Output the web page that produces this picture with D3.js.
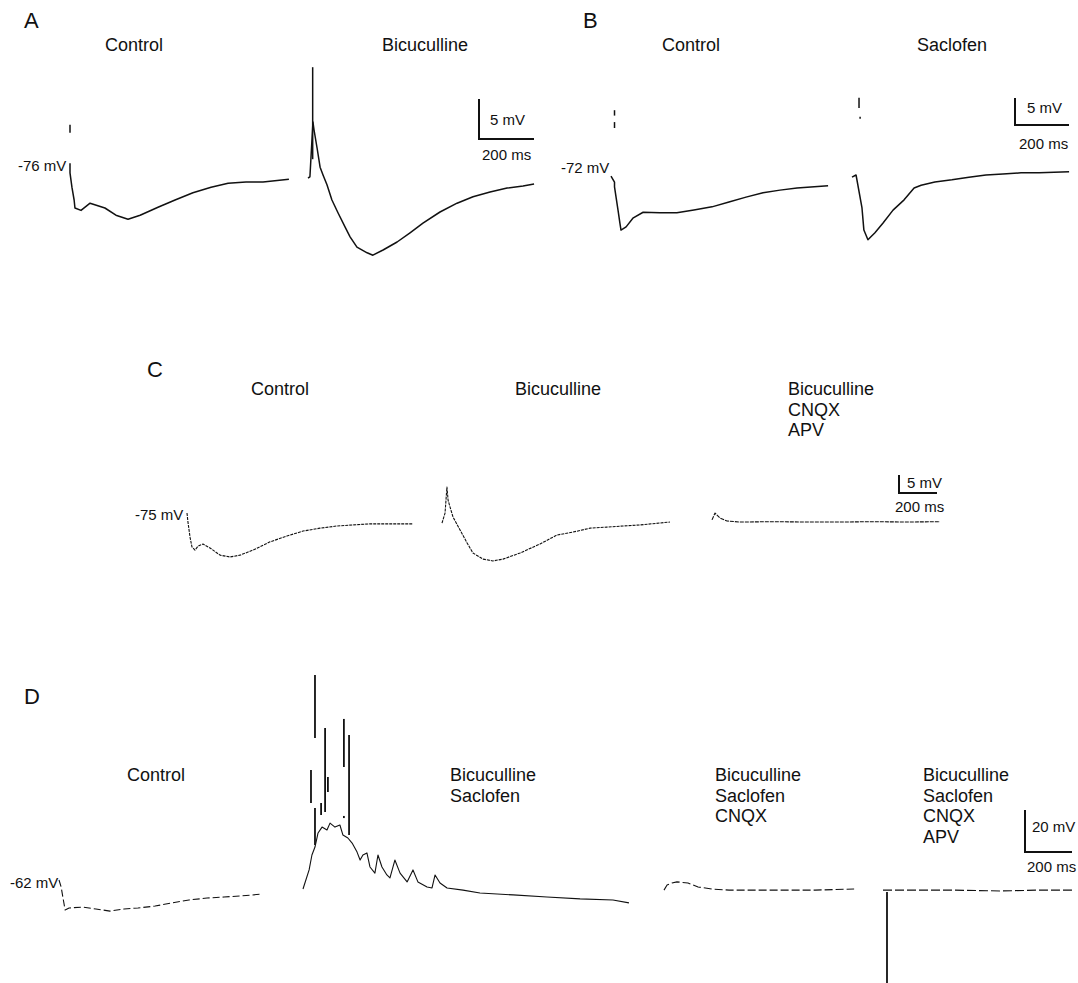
<!DOCTYPE html>
<html><head><meta charset="utf-8">
<script src="https://cdn.jsdelivr.net/npm/d3@7"></script>
<style>
html,body{margin:0;background:#fff}
svg{display:block}
text{font-family:"Liberation Sans",Arial,sans-serif;fill:#111}
</style>
</head><body>
<svg id="fig" width="1078" height="983"></svg>
<script>
// ---------- DATA: [time ms from trace start, membrane potential mV] ----------
// Panel A
const aControl = [[0,-75.4],[0,-76.6],[7,-78.4],[15,-80],[18,-81],[40,-81.3],[73,-80.4],[127,-81],[167,-81.9],[211,-82.4],[255,-81.9],[320,-80.9],[382,-80],[447,-79.1],[513,-78.4],[575,-77.9],[640,-77.75],[702,-77.75],[796,-77.4]];
const aControlSpikes = [[0,-70.6,-71.6]];
const aBicuculline = [[0,-77.25],[7,-77.1],[18,-70.25],[22,-71.25],[33,-73.5],[44,-75.9],[55,-76.9],[69,-78.1],[87,-80],[109,-81.6],[135,-83.4],[153,-84.6],[178,-85.9],[215,-86.6],[236,-86.9],[273,-86.25],[324,-85.25],[371,-84.1],[418,-82.9],[480,-81.5],[542,-80.4],[600,-79.6],[662,-79],[724,-78.5],[782,-78.25],[822,-78]];
const aBicucullineSpikes = [[17,-63.4,-74.9]];
// Panel B
const bControl = [[0,-72.2],[13,-73.3],[13,-74.2],[26,-78.5],[33,-80.9],[37,-82.2],[56,-81.6],[81,-80],[119,-78.9],[181,-79],[244,-79],[307,-78.5],[374,-77.9],[437,-77],[500,-76.1],[563,-75.3],[626,-74.8],[689,-74.4],[804,-74]];
const bControlSpikes = [[13,-60,-61],[13,-62.2,-63.3]];
const bSaclofen = [[0,-72.4],[15,-72],[37,-78.1],[44,-82.2],[59,-84],[85,-82.7],[115,-80.9],[152,-78.5],[193,-76.6],[230,-74.4],[256,-73.9],[307,-73.3],[370,-72.9],[433,-72.4],[496,-72],[559,-71.8],[626,-71.6],[693,-71.6],[804,-71.4]];
const bSaclofenSpikes = [[26,-57.7,-59.6],[30,-61.2,-61.6]];
// Panel C
const cControl = [[0,-73.9],[5,-76.4],[16,-80.6],[26,-83.3],[42,-84.2],[58,-83.1],[84,-82.5],[121,-83.6],[174,-85.6],[226,-86.1],[279,-85.6],[347,-84.2],[437,-81.9],[526,-80.3],[611,-78.9],[700,-78.1],[789,-77.5],[874,-77.2],[963,-76.9],[1053,-76.9],[1189,-76.9]];
const cBicuculline = [[0,-76.7],[16,-73.9],[26,-66.7],[32,-70.3],[42,-72.2],[58,-75],[95,-78.6],[132,-82.2],[163,-85],[216,-86.7],[268,-87.2],[321,-86.7],[411,-85],[516,-82.5],[605,-80],[689,-79.2],[779,-78.1],[868,-77.8],[953,-77.5],[1042,-77.2],[1200,-76.4]];
const cBicCnqxApv = [[0,-75.8],[16,-73.9],[42,-75.3],[79,-76.1],[147,-76.4],[321,-76.3],[500,-76.4],[674,-76.4],[847,-76.3],[1026,-76.4],[1200,-76.3]];
// Panel D
const dControl = [[0,-60.1],[9,-63.4],[26,-74.4],[43,-73.4],[102,-73],[157,-73.9],[217,-74.9],[277,-73.9],[336,-73.4],[409,-72.5],[481,-71],[553,-69.6],[630,-68.7],[702,-68.2],[774,-67.7],[864,-66.8]];
const dBicSac = [[0,-64.4],[26,-55.3],[38,-48.2],[51,-44.4],[64,-37.7],[81,-34.9],[102,-36.3],[115,-33],[136,-34.9],[157,-33.9],[170,-38.7],[191,-40.1],[209,-42.5],[230,-46.8],[243,-50.6],[255,-48.2],[272,-47.2],[285,-53.9],[306,-56.8],[319,-48.2],[336,-53.9],[357,-57.7],[370,-59.1],[391,-50.6],[413,-56.8],[443,-61],[468,-55.3],[489,-61],[528,-63.4],[549,-63.9],[562,-57.7],[583,-61.5],[613,-63.9],[681,-64.9],[753,-66.3],[894,-67.2],[1038,-68.2],[1179,-69.1],[1319,-69.6],[1387,-71]];
const dBicSacSpikes = [[34,-7.7,-23.4],[51,37.5,7.5],[51,-25.8,-43.4],[77,-23.4,-29.1],[94,12.3,-27.7],[106,-11,-18.2],[174,16.6,-6.3],[174,-29.6,-30.6],[196,8.95,-38.7]];
const dBicSacCnqx = [[0,-64.9],[13,-62.5],[34,-61.5],[55,-61],[102,-61.5],[145,-63.4],[204,-64.4],[277,-64.9],[349,-64.9],[494,-64.9],[643,-64.9],[809,-64.4]];
const dBicSacCnqxApv = [[0,-64.9],[72,-64.9],[285,-64.9],[498,-65.3],[668,-64.9],[817,-64.9]];
const dBicSacCnqxApvSpikes = [[17,-65.8,-110]];

// Labels
const restLabels = ["-76 mV","-72 mV","-75 mV","-62 mV"];
const panelLetters = ["A","B","C","D"];
const labelsA = [["Control"],["Bicuculline"]];
const labelsB = [["Control"],["Saclofen"]];
const labelsC = [["Control"],["Bicuculline"],["Bicuculline","CNQX","APV"]];
const labelsD = [["Control"],["Bicuculline","Saclofen"],["Bicuculline","Saclofen","CNQX"],["Bicuculline","Saclofen","CNQX","APV"]];
const barLabelsV = ["5 mV","5 mV","5 mV","20 mV"];
const barLabelT = "200 ms";
const barMv = [5,5,5,20];
const barMs = 200;

// ---------- LAYOUT ----------
const svg = d3.select('#fig');
const panels = [
  {rest:-76, restY:168, barH:40, barW:55, barX:479, barY:139, restLab:[18,171], letter:[24,28],
   vLab:[490,125], tLab:[482,160], labels:labelsA, labPos:[[105,51],[382,51]], lw:1.5,
   traces:[[70,aControl,aControlSpikes,null],[308,aBicuculline,aBicucullineSpikes,null]]},
  {rest:-72, restY:175, barH:27, barW:54, barX:1015, barY:125, restLab:[561,173], letter:[583,28],
   vLab:[1027,113], tLab:[1019,149], labels:labelsB, labPos:[[662,51],[917,51]], lw:1.5,
   traces:[[611,bControl,bControlSpikes,null],[852,bSaclofen,bSaclofenSpikes,null]]},
  {rest:-75, restY:517, barH:18, barW:38, barX:899, barY:493, restLab:[135,520], letter:[147,377],
   vLab:[907,488], tLab:[895,512], labels:labelsC, labPos:[[251,395],[515,395],[788,395]], lw:1.1,
   traces:[[187,cControl,[],"3,1"],[442,cBicuculline,[],"3,1"],[712,cBicCnqxApv,[],"4,1"]]},
  {rest:-62, restY:884, barH:42, barW:47, barX:1025, barY:852, restLab:[10,888], letter:[24,704],
   vLab:[1032,832], tLab:[1027,872], labels:labelsD, labPos:[[127,781],[450,781],[715,781],[923,781]], lw:1.1,
   traces:[[59,dControl,[],"7,3"],[303,dBicSac,dBicSacSpikes,null],[664,dBicSacCnqx,[],"8,3"],[883,dBicSacCnqxApv,dBicSacCnqxApvSpikes,"9,3"]]}
];

panels.forEach((p,i)=>{
  const g = svg.append('g');
  // panel letter
  g.append('text').attr('x',p.letter[0]).attr('y',p.letter[1]).attr('font-size',22).text(panelLetters[i]);
  // condition labels
  p.labels.forEach((lines,j)=>{
    lines.forEach((s,k)=>{
      g.append('text').attr('x',p.labPos[j][0]).attr('y',p.labPos[j][1]+k*20.5)
        .attr('font-size',18).text(s);
    });
  });
  // resting potential label
  g.append('text').attr('x',p.restLab[0]).attr('y',p.restLab[1]).attr('font-size',15).text(restLabels[i]);
  // traces
  const yS = d3.scaleLinear().domain([p.rest, p.rest+barMv[i]]).range([p.restY, p.restY-p.barH]);
  p.traces.forEach(([x0,data,spikes,dash])=>{
    const xS = d3.scaleLinear().domain([0,barMs]).range([x0, x0+p.barW]);
    const line = d3.line().x(d=>xS(d[0])).y(d=>yS(d[1]));
    g.append('path').datum(data).attr('d',line).attr('fill','none')
      .attr('stroke','#111').attr('stroke-width',p.lw).attr('stroke-linejoin','round')
      .attr('stroke-dasharray',dash);
    g.selectAll(null).data(spikes).enter().append('line')
      .attr('x1',d=>xS(d[0])).attr('x2',d=>xS(d[0]))
      .attr('y1',d=>yS(d[1])).attr('y2',d=>yS(d[2]))
      .attr('stroke','#111').attr('stroke-width',i===3?1.8:1.5);
  });
  // scale bar
  const xb = d3.scaleLinear().domain([0,barMs]).range([p.barX, p.barX+p.barW]);
  const yb = d3.scaleLinear().domain([0,barMv[i]]).range([p.barY, p.barY-p.barH]);
  g.append('path').attr('d',`M${xb(0)},${yb(barMv[i])}V${yb(0)}H${xb(barMs)}`)
    .attr('fill','none').attr('stroke','#111').attr('stroke-width',2);
  g.append('text').attr('x',p.vLab[0]).attr('y',p.vLab[1]).attr('font-size',15).text(barLabelsV[i]);
  g.append('text').attr('x',p.tLab[0]).attr('y',p.tLab[1]).attr('font-size',15).text(barLabelT);
});
</script>
</body></html>
